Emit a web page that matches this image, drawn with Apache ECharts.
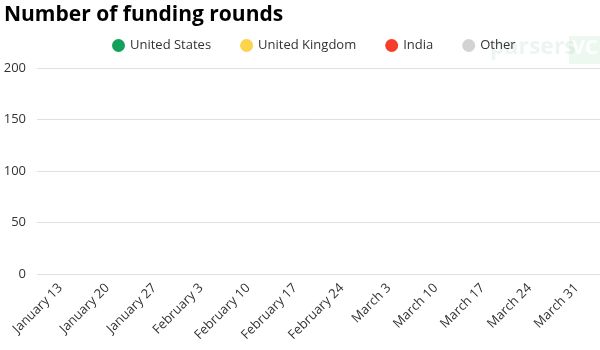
<!DOCTYPE html>
<html><head><meta charset="utf-8">
<script src="https://cdn.jsdelivr.net/npm/echarts@6/dist/echarts.min.js"></script>
<style>html,body{margin:0;padding:0;background:#fff}#c{width:600px;height:350px}</style>
</head><body><div id="c"></div>
<script>
var categories = ["January 13","January 20","January 27","February 3","February 10","February 17","February 24","March 3","March 10","March 17","March 24","March 31"];
var unitedStates = [0,0,0,0,0,0,0,0,0,0,0,0];
var unitedKingdom = [0,0,0,0,0,0,0,0,0,0,0,0];
var india = [0,0,0,0,0,0,0,0,0,0,0,0];
var other = [0,0,0,0,0,0,0,0,0,0,0,0];
var yTicks = [0,50,100,150,200];
var FONT = "'Open Sans', sans-serif";
var chart = echarts.init(document.getElementById('c'));
function s(name, data, color){
  return {name:name, type:'bar', stack:'t', data:data, itemStyle:{color:color}, barWidth:'60%'};
}
chart.setOption({
  animation:false,
  textStyle:{fontFamily:FONT},
  title:{text:'Number of funding rounds', left:-1, top:0,
    textStyle:{fontFamily:FONT, fontSize:21, fontWeight:'bold', color:'#000'}},
  legend:{top:34, left:107, itemWidth:13, itemHeight:13, itemGap:29, icon:'circle',
    textStyle:{fontFamily:FONT, fontSize:13, color:'#333'},
    data:['United States','United Kingdom','India','Other']},
  graphic:[
    {type:'text', left:490, top:36, style:{text:'parsers', fontFamily:FONT, fontSize:23, fontWeight:'bold', fill:'rgba(0,120,40,0.07)'}},
    {type:'rect', left:569, top:36, shape:{width:31, height:28}, style:{fill:'rgba(0,150,50,0.07)'}},
    {type:'text', left:572, top:38, style:{text:'VC', fontFamily:FONT, fontSize:20, fontWeight:'bold', fill:'rgba(255,255,255,0.9)'}}
  ],
  grid:{left:37, right:0, top:68, bottom:76, containLabel:false},
  xAxis:{type:'category', data:categories,
    axisLine:{show:false}, axisTick:{show:false},
    axisLabel:{rotate:45, interval:0, fontFamily:FONT, fontSize:13, color:'#333', margin:12}},
  yAxis:{type:'value', min:yTicks[0], max:yTicks[yTicks.length-1], interval:50,
    axisLine:{show:false}, axisTick:{show:false},
    axisLabel:{fontFamily:FONT, fontSize:13, color:'#333', margin:11},
    splitLine:{lineStyle:{color:'#e0e0e0', width:1}}},
  series:[
    s('United States', unitedStates, '#13a05a'),
    s('United Kingdom', unitedKingdom, '#fbd34d'),
    s('India', india, '#f63d2a'),
    s('Other', other, '#d3d3d3')
  ]
});
</script></body></html>
